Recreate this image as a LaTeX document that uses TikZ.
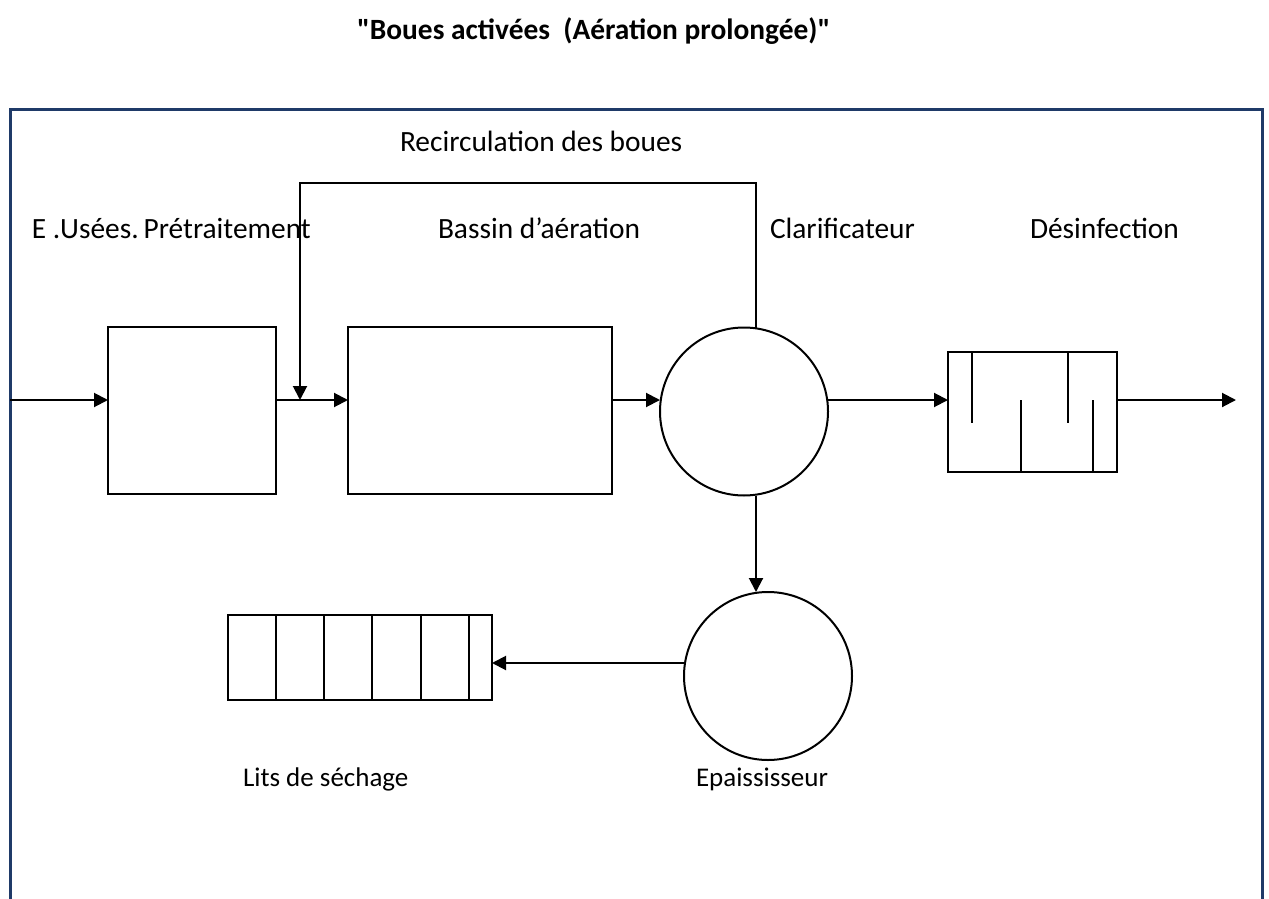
\documentclass[tikz,border=0pt]{standalone}
\usepackage{fontspec}
\setmainfont{Carlito}
\usetikzlibrary{arrows.meta, positioning}
\definecolor{bleucadre}{RGB}{31,58,104}
\newcommand\gdroit{\XeTeXglyph\XeTeXcharglyph"22\relax}

\begin{document}
\begin{tikzpicture}[x=0.5pt,y=-0.5pt,
every node/.style={inner sep=0pt,outer sep=0pt,font=\fontsize{14.7}{17}\selectfont},
petit/.style={font=\fontsize{13.5}{16}\selectfont},
bloc/.style={draw,line width=1pt},
trait/.style={line width=1pt},
fleche/.style={line width=1pt,-{Triangle[length=7pt,width=7pt]}},
cadre/.style={draw=bleucadre,line width=1.5pt}]
\useasboundingbox (0,0) rectangle (1269,899);
\draw[cadre] (10,899) -- (10,110) -- (1262,110) -- (1262,899);
\node[anchor=base west] (titre) at (357,40) {\bfseries \gdroit Boues activées~ (Aération prolongée)\gdroit};
\node[anchor=base west] (lrecirc) at (400,152) {Recirculation des boues};
\node[anchor=base west] (lpre) at (32,238) {E .Usées.\,Prétraitement};
\node[anchor=base west] (lbassin) at (438,238) {Bassin d’aération};
\node[anchor=base west] (lclar) at (770,238) {Clarificateur};
\node[anchor=base west] (ldes) at (1030,238) {Désinfection};
\node[petit,anchor=base west] (llits) at (243,786) {Lits de séchage};
\node[petit,anchor=base west] (lepais) at (696,786) {Epaississeur};
\node[bloc,minimum width=84pt,minimum height=83.5pt] (pre) at (192,410.5) {};
\node[bloc,minimum width=132pt,minimum height=83.5pt] (bassin) at (480,410.5) {};
\node[bloc,circle,minimum size=84pt] (clar) at (744,411.5) {};
\node[bloc,minimum width=84.5pt,minimum height=60pt] (desinf) at (1032.5,411.5) {};
\node[bloc,circle,minimum size=84pt] (epais) at (768,676) {};
\node[bloc,minimum width=132pt,minimum height=42.5pt] (lits) at (360,657.5) {};
\foreach \bx in {972,1068}
  \draw[trait] (\bx,351.5) -- (\bx,423);
\foreach \bx in {1021,1093}
  \draw[trait] (\bx,471.5) -- (\bx,400);
\foreach \bx in {276,324,372,421,469}
  \draw[trait] (\bx,615) -- (\bx,700);
\coordinate (entree) at (10,400);
\coordinate (sortie) at (1236,400);
\coordinate (haut) at (756,183);
\coordinate (piquage) at (300,400);
\coordinate (boue) at (685,663);
\draw[fleche] (entree) -- (entree -| pre.west);
\draw[fleche] (entree -| pre.east) -- (entree -| bassin.west);
\draw[fleche] (entree -| bassin.east) -- (entree -| clar.west);
\draw[fleche] (entree -| clar.east) -- (entree -| desinf.west);
\draw[fleche] (entree -| desinf.east) -- (sortie);
\draw[fleche] (haut |- clar.north) -- (haut) -| (piquage);
\draw[fleche] (haut |- clar.south) -- (haut |- epais.north);
\draw[fleche] (boue) -- (boue -| lits.east);
\end{tikzpicture}
\end{document}
